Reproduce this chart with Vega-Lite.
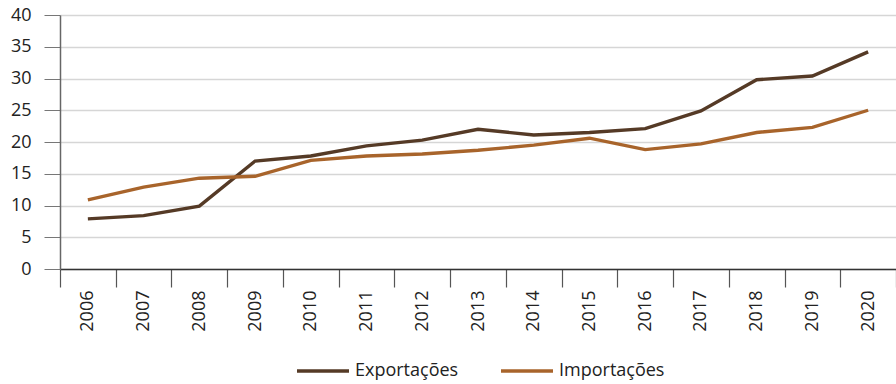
{
  "$schema": "https://vega.github.io/schema/vega-lite/v6.json",
  "width": 836,
  "height": 254,
  "autosize": {"type": "none"},
  "padding": {"left": 60, "top": 15, "right": 0, "bottom": 115},
  "background": "white",
  "config": {
    "view": {"stroke": null},
    "font": "Open Sans",
    "axis": {"labelFont": "Open Sans", "labelColor": "#222222", "labelFontSize": 18},
    "legend": {"labelFont": "Open Sans"}
  },
  "data": {
    "values": [
      {"ano": "2006", "serie": "Exportações", "valor": 7.9},
      {"ano": "2007", "serie": "Exportações", "valor": 8.4},
      {"ano": "2008", "serie": "Exportações", "valor": 9.9},
      {"ano": "2009", "serie": "Exportações", "valor": 17.0},
      {"ano": "2010", "serie": "Exportações", "valor": 17.8},
      {"ano": "2011", "serie": "Exportações", "valor": 19.4},
      {"ano": "2012", "serie": "Exportações", "valor": 20.3},
      {"ano": "2013", "serie": "Exportações", "valor": 22.0},
      {"ano": "2014", "serie": "Exportações", "valor": 21.1},
      {"ano": "2015", "serie": "Exportações", "valor": 21.5},
      {"ano": "2016", "serie": "Exportações", "valor": 22.1},
      {"ano": "2017", "serie": "Exportações", "valor": 24.9},
      {"ano": "2018", "serie": "Exportações", "valor": 29.8},
      {"ano": "2019", "serie": "Exportações", "valor": 30.4},
      {"ano": "2020", "serie": "Exportações", "valor": 34.2},
      {"ano": "2006", "serie": "Importações", "valor": 10.9},
      {"ano": "2007", "serie": "Importações", "valor": 12.9},
      {"ano": "2008", "serie": "Importações", "valor": 14.3},
      {"ano": "2009", "serie": "Importações", "valor": 14.6},
      {"ano": "2010", "serie": "Importações", "valor": 17.1},
      {"ano": "2011", "serie": "Importações", "valor": 17.8},
      {"ano": "2012", "serie": "Importações", "valor": 18.1},
      {"ano": "2013", "serie": "Importações", "valor": 18.7},
      {"ano": "2014", "serie": "Importações", "valor": 19.5},
      {"ano": "2015", "serie": "Importações", "valor": 20.6},
      {"ano": "2016", "serie": "Importações", "valor": 18.8},
      {"ano": "2017", "serie": "Importações", "valor": 19.7},
      {"ano": "2018", "serie": "Importações", "valor": 21.5},
      {"ano": "2019", "serie": "Importações", "valor": 22.3},
      {"ano": "2020", "serie": "Importações", "valor": 25.0}
    ]
  },
  "mark": {"type": "line", "strokeWidth": 3.4, "strokeJoin": "miter"},
  "encoding": {
    "x": {
      "field": "ano",
      "type": "ordinal",
      "scale": {"type": "band", "paddingInner": 0, "paddingOuter": 0},
      "axis": {
        "title": null,
        "labelAngle": -90,
        "labelAlign": "right",
        "labelBaseline": "middle",
        "labelPadding": 3,
        "tickBand": "extent",
        "tickSize": 18,
        "tickColor": "#555555",
        "tickWidth": 1.2,
        "domainColor": "#333333",
        "domainWidth": 1.5,
        "grid": false
      }
    },
    "y": {
      "field": "valor",
      "type": "quantitative",
      "scale": {"domain": [0, 40], "nice": false},
      "axis": {
        "title": null,
        "values": [0, 5, 10, 15, 20, 25, 30, 35, 40],
        "tickSize": 16,
        "tickColor": "#777777",
        "labelPadding": 13,
        "domainColor": "#666666",
        "domainWidth": 1.5,
        "grid": true,
        "gridColor": "#d6d6d6",
        "gridWidth": 1.3
      }
    },
    "color": {
      "field": "serie",
      "type": "nominal",
      "scale": {"domain": ["Exportações", "Importações"], "range": ["#553a26", "#a8642b"]},
      "legend": {
        "title": null,
        "orient": "none",
        "direction": "horizontal",
        "legendX": 235,
        "legendY": 328,
        "padding": 0,
        "symbolType": "stroke",
        "symbolSize": 2704,
        "symbolStrokeWidth": 3.4,
        "labelFontSize": 18,
        "labelColor": "#222222",
        "labelOffset": 4,
        "columnPadding": 35
      }
    }
  }
}
